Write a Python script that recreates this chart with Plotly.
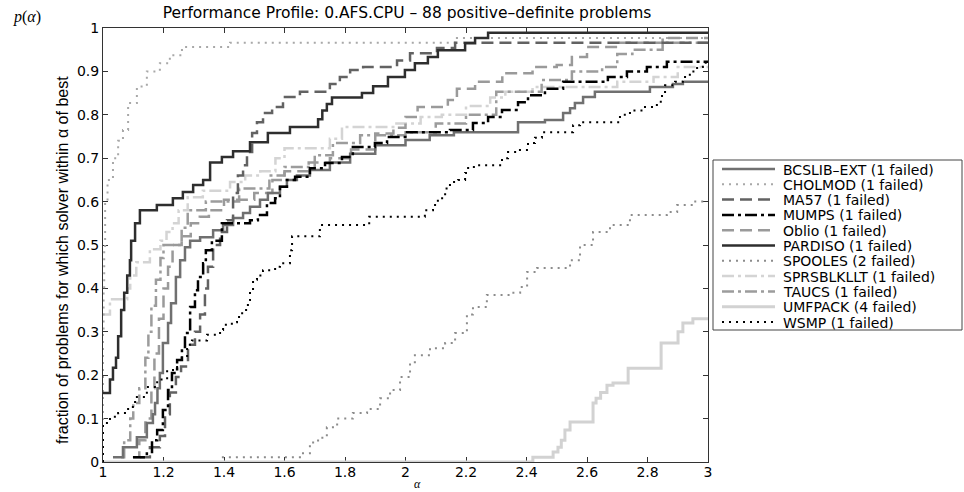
import plotly.graph_objects as go

# ---------------- data ----------------
bcslib_alpha = [1.033, 1.066, 1.112, 1.145, 1.165, 1.172, 1.18, 1.188, 1.198, 1.215, 1.225, 1.241, 1.255, 1.271, 1.288,
                1.321, 1.364, 1.397, 1.43, 1.463, 1.486, 1.519, 1.545, 1.585, 1.608, 1.641, 1.684, 1.75, 1.817, 1.9,
                2.0, 2.08, 2.16, 2.372, 2.461, 2.521, 2.544, 2.56, 2.587, 2.626, 2.808, 2.884, 2.917, 3.0]
bcslib_p = [0.011, 0.034, 0.057, 0.09, 0.11, 0.136, 0.17, 0.205, 0.274, 0.32, 0.366, 0.426, 0.465, 0.495, 0.51,
            0.518, 0.534, 0.546, 0.562, 0.574, 0.588, 0.604, 0.62, 0.634, 0.65, 0.66, 0.673, 0.69, 0.71, 0.73,
            0.742, 0.753, 0.76, 0.783, 0.788, 0.804, 0.815, 0.827, 0.841, 0.853, 0.864, 0.871, 0.876, 0.876]

cholmod_alpha = [1.0, 1.0, 1.002, 1.004, 1.007, 1.015, 1.033, 1.05, 1.066, 1.083, 1.112, 1.145, 1.188, 1.221, 1.261,
                 1.42, 2.17, 3.0]
cholmod_p = [0.0, 0.30, 0.40, 0.49, 0.60, 0.65, 0.70, 0.74, 0.765, 0.827, 0.865, 0.90, 0.919, 0.937, 0.956,
             0.966, 0.977, 0.977]

ma57_alpha = [1.122, 1.155, 1.188, 1.205, 1.221, 1.241, 1.258, 1.281, 1.304, 1.321, 1.337, 1.347, 1.364, 1.387, 1.41,
              1.43, 1.446, 1.463, 1.476, 1.493, 1.509, 1.529, 1.559, 1.595, 1.651, 1.75, 1.783, 1.817, 1.86, 1.972,
              2.015, 2.104, 2.164, 3.0]
ma57_p = [0.011, 0.034, 0.06, 0.11, 0.16, 0.196, 0.22, 0.27, 0.30, 0.34, 0.40, 0.45, 0.50, 0.53, 0.557,
          0.62, 0.66, 0.684, 0.714, 0.758, 0.783, 0.804, 0.818, 0.841, 0.853, 0.871, 0.887, 0.903, 0.91, 0.925,
          0.942, 0.954, 0.966, 0.966]

mumps_alpha = [1.099, 1.145, 1.162, 1.179, 1.198, 1.215, 1.228, 1.245, 1.261, 1.271, 1.288, 1.304, 1.314, 1.331, 1.34,
               1.36, 1.393, 1.486, 1.512, 1.542, 1.569, 1.585, 1.608, 1.635, 1.684, 1.734, 1.79, 1.826, 1.899, 1.939,
               2.005, 2.147, 2.223, 2.273, 2.319, 2.372, 2.405, 2.461, 2.521, 2.669, 2.732, 2.798, 2.864, 3.0]
mumps_p = [0.011, 0.023, 0.05, 0.074, 0.12, 0.166, 0.205, 0.235, 0.265, 0.297, 0.357, 0.396, 0.426, 0.458, 0.488,
           0.51, 0.55, 0.557, 0.569, 0.597, 0.608, 0.634, 0.65, 0.657, 0.677, 0.689, 0.703, 0.726, 0.735, 0.749,
           0.76, 0.765, 0.781, 0.795, 0.811, 0.829, 0.845, 0.86, 0.876, 0.887, 0.9, 0.91, 0.922, 0.922]

oblio_alpha = [1.10, 1.12, 1.14, 1.16, 1.17, 1.185, 1.2, 1.215, 1.23, 1.26, 1.29, 1.32, 1.35, 1.4, 1.5,
               1.56, 1.6, 1.68, 1.75, 1.82, 1.9, 1.96, 2.0, 2.04, 2.14, 2.17, 2.23, 2.32, 2.42, 2.5,
               2.55, 2.6, 2.7, 2.85, 3.0]
oblio_p = [0.011, 0.05, 0.10, 0.17, 0.25, 0.33, 0.40, 0.45, 0.50, 0.52, 0.55, 0.565, 0.58, 0.604, 0.62,
           0.65, 0.67, 0.69, 0.70, 0.72, 0.757, 0.77, 0.795, 0.818, 0.834, 0.86, 0.876, 0.896, 0.91, 0.915,
           0.933, 0.956, 0.966, 0.977, 0.977]

pardiso_alpha = [1.0, 1.023, 1.033, 1.043, 1.05, 1.06, 1.07, 1.08, 1.089, 1.093, 1.106, 1.122, 1.178, 1.231, 1.264,
                 1.298, 1.331, 1.354, 1.393, 1.43, 1.486, 1.545, 1.618, 1.711, 1.725, 1.74, 1.757, 1.856, 1.893, 1.942,
                 1.998, 2.031, 2.074, 2.107, 2.197, 2.23, 2.273, 3.0]
pardiso_p = [0.159, 0.19, 0.217, 0.24, 0.29, 0.35, 0.39, 0.43, 0.465, 0.51, 0.55, 0.58, 0.592, 0.608, 0.622,
             0.638, 0.65, 0.69, 0.703, 0.716, 0.737, 0.758, 0.772, 0.79, 0.81, 0.825, 0.84, 0.85, 0.866, 0.887,
             0.903, 0.919, 0.933, 0.949, 0.965, 0.977, 0.989, 0.989]

spooles_alpha = [1.393, 1.651, 1.684, 1.711, 1.74, 1.774, 1.826, 1.873, 1.916, 1.949, 1.982, 2.015, 2.031, 2.081, 2.131,
                 2.164, 2.203, 2.223, 2.269, 2.345, 2.379, 2.402, 2.435, 2.544, 2.577, 2.62, 2.676, 2.742, 2.864, 2.898,
                 2.95, 3.0]
spooles_p = [0.011, 0.02, 0.045, 0.056, 0.08, 0.10, 0.113, 0.122, 0.147, 0.166, 0.196, 0.23, 0.246, 0.262, 0.274,
             0.297, 0.34, 0.357, 0.385, 0.39, 0.403, 0.438, 0.447, 0.465, 0.5, 0.53, 0.546, 0.569, 0.576, 0.592,
             0.6, 0.6]

sprsblkllt_alpha = [1.0, 1.023, 1.08, 1.09, 1.11, 1.155, 1.19, 1.21, 1.23, 1.25, 1.28, 1.33, 1.42, 1.47, 1.52,
                    1.57, 1.60, 1.75, 1.79, 1.97, 2.05, 2.12, 2.2, 2.28, 2.33, 2.42, 2.7, 2.82, 2.9, 3.0]
sprsblkllt_p = [0.34, 0.375, 0.40, 0.43, 0.46, 0.49, 0.51, 0.53, 0.55, 0.58, 0.61, 0.625, 0.645, 0.66, 0.67,
                0.70, 0.723, 0.745, 0.772, 0.78, 0.795, 0.80, 0.82, 0.84, 0.853, 0.864, 0.876, 0.887, 0.91, 0.91]

taucs_alpha = [1.06, 1.07, 1.09, 1.10, 1.12, 1.14, 1.15, 1.16, 1.175, 1.19, 1.2, 1.26, 1.28, 1.34, 1.45,
               1.55, 1.6, 1.7, 1.76, 1.85, 2.0, 2.1, 2.2, 2.3, 2.45, 2.55, 2.65, 2.7, 2.75, 2.85, 3.0]
taucs_p = [0.011, 0.05, 0.10, 0.136, 0.17, 0.24, 0.30, 0.36, 0.42, 0.47, 0.50, 0.54, 0.58, 0.60, 0.63,
           0.66, 0.68, 0.707, 0.735, 0.753, 0.76, 0.78, 0.80, 0.853, 0.88, 0.90, 0.91, 0.94, 0.95, 0.966, 0.966]

umfpack_alpha = [1.0, 2.421, 2.488, 2.504, 2.515, 2.527, 2.544, 2.62, 2.63, 2.645, 2.666, 2.686, 2.736, 2.845, 2.901,
                 2.917, 2.95, 3.0]
umfpack_p = [0.0, 0.011, 0.023, 0.034, 0.05, 0.074, 0.092, 0.136, 0.147, 0.16, 0.177, 0.182, 0.216, 0.274, 0.30,
             0.32, 0.33, 0.33]

wsmp_alpha = [1.0, 1.0, 1.023, 1.05, 1.083, 1.106, 1.145, 1.179, 1.212, 1.245, 1.278, 1.294, 1.344, 1.387, 1.397,
              1.426, 1.443, 1.46, 1.479, 1.486, 1.496, 1.509, 1.529, 1.569, 1.585, 1.618, 1.625, 1.717, 1.88, 2.064,
              2.091, 2.107, 2.131, 2.147, 2.174, 2.197, 2.207, 2.23, 2.319, 2.339, 2.372, 2.405, 2.428, 2.451, 2.554,
              2.577, 2.709, 2.742, 2.785, 2.831, 2.848, 2.858, 2.891, 2.917, 2.94, 2.964, 2.983, 3.0]
wsmp_p = [0.0, 0.09, 0.104, 0.113, 0.127, 0.15, 0.173, 0.19, 0.212, 0.24, 0.27, 0.28, 0.293, 0.304, 0.316,
          0.322, 0.334, 0.35, 0.373, 0.392, 0.42, 0.43, 0.442, 0.45, 0.458, 0.488, 0.52, 0.546, 0.565, 0.58,
          0.592, 0.608, 0.63, 0.645, 0.65, 0.666, 0.68, 0.684, 0.70, 0.714, 0.719, 0.735, 0.747, 0.76, 0.776,
          0.783, 0.80, 0.81, 0.818, 0.83, 0.85, 0.868, 0.876, 0.887, 0.90, 0.91, 0.92, 0.92]

legend_labels = ["BCSLIB–EXT (1 failed)", "CHOLMOD (1 failed)", "MA57 (1 failed)", "MUMPS (1 failed)",
                 "Oblio (1 failed)", "PARDISO (1 failed)", "SPOOLES (2 failed)", "SPRSBLKLLT (1 failed)",
                 "TAUCS (1 failed)", "UMFPACK (4 failed)", "WSMP (1 failed)"]

x_ticks = [1, 1.2, 1.4, 1.6, 1.8, 2, 2.2, 2.4, 2.6, 2.8, 3]
x_tick_text = ["1", "1.2", "1.4", "1.6", "1.8", "2", "2.2", "2.4", "2.6", "2.8", "3"]
y_ticks = [0, 0.1, 0.2, 0.3, 0.4, 0.5, 0.6, 0.7, 0.8, 0.9, 1]
y_tick_text = ["0", "0.1", "0.2", "0.3", "0.4", "0.5", "0.6", "0.7", "0.8", "0.9", "1"]

series = [
    (bcslib_alpha, bcslib_p), (cholmod_alpha, cholmod_p), (ma57_alpha, ma57_p), (mumps_alpha, mumps_p),
    (oblio_alpha, oblio_p), (pardiso_alpha, pardiso_p), (spooles_alpha, spooles_p),
    (sprsblkllt_alpha, sprsblkllt_p), (taucs_alpha, taucs_p), (umfpack_alpha, umfpack_p), (wsmp_alpha, wsmp_p),
]

# ---------------- styles ----------------
DOT = "2px,5px"
DASH = "12px,6px"
DASHDOT = "12px,4px,3px,4px"
styles = [
    dict(color="#707070", dash="solid", width=2.5),   # BCSLIB-EXT
    dict(color="#a8a8a8", dash=DOT, width=2),         # CHOLMOD
    dict(color="#626262", dash=DASH, width=2.5),      # MA57
    dict(color="#000000", dash=DASHDOT, width=2.5),   # MUMPS
    dict(color="#9a9a9a", dash=DASH, width=2.5),      # Oblio
    dict(color="#2e2e2e", dash="solid", width=2.5),   # PARDISO
    dict(color="#8c8c8c", dash=DOT, width=2),         # SPOOLES
    dict(color="#d4d4d4", dash=DASHDOT, width=2.5),   # SPRSBLKLLT
    dict(color="#9c9c9c", dash=DASHDOT, width=2.5),   # TAUCS
    dict(color="#d2d2d2", dash="solid", width=3),     # UMFPACK
    dict(color="#000000", dash=DOT, width=2),         # WSMP
]

W, H = 964, 492
L, R, T, B = 103, 708, 28, 462  # plot area in pixels

def px2x(px):
    return (px - L) / (R - L)

def px2y(py):
    return (B - py) / (B - T)

fig = go.Figure()
# draw the lighter curves first so the darker ones sit on top
order = [9, 7, 1, 6, 8, 4, 0, 2, 10, 3, 5]
for i in order:
    a, p = series[i]
    st = styles[i]
    fig.add_trace(go.Scatter(
        x=a, y=p, mode="lines", line_shape="hv", name=legend_labels[i], showlegend=False,
        line=dict(color=st["color"], dash=st["dash"], width=st["width"]),
        hoverinfo="skip",
    ))

FONT = "DejaVu Sans, Verdana, sans-serif"

shapes = []
annotations = []
# legend box
shapes.append(dict(type="rect", xref="paper", yref="paper",
                   x0=px2x(713), x1=px2x(962), y0=px2y(160), y1=px2y(330),
                   line=dict(color="#444444", width=1), fillcolor="white", layer="above"))
for k, lab in enumerate(legend_labels):
    yc = 169 + k * 15.3
    st = styles[k]
    shapes.append(dict(type="line", xref="paper", yref="paper",
                       x0=px2x(722), x1=px2x(775), y0=px2y(yc), y1=px2y(yc),
                       line=dict(color=st["color"], dash=st["dash"], width=st["width"]), layer="above"))
    annotations.append(dict(text=lab, xref="paper", yref="paper", x=px2x(781), y=px2y(yc),
                            xanchor="left", yanchor="middle", showarrow=False, height=15,
                            font=dict(family=FONT, size=14, color="black")))

# y label, p(alpha), alpha
annotations.append(dict(text="fraction of problems for which solver within α of best", textangle=-90,
                        xref="paper", yref="paper", x=px2x(62), y=px2y(260),
                        xanchor="center", yanchor="middle", showarrow=False,
                        font=dict(family="Liberation Sans Narrow, Liberation Sans, Arial", size=16, color="black")))
annotations.append(dict(text="<i>p</i>(<i>α</i>)", xref="paper", yref="paper", x=px2x(27), y=px2y(17),
                        xanchor="center", yanchor="middle", showarrow=False,
                        font=dict(family="Liberation Serif, DejaVu Serif, serif", size=16, color="black")))
annotations.append(dict(text="<i>α</i>", xref="paper", yref="paper", x=px2x(417), y=px2y(484),
                        xanchor="center", yanchor="middle", showarrow=False,
                        font=dict(family="Liberation Serif, DejaVu Serif, serif", size=12, color="black")))

axis_common = dict(showgrid=False, zeroline=False, showline=True, mirror="ticks", linecolor="#333333",
                   linewidth=1, ticks="inside", ticklen=5, tickcolor="#333333",
                   tickfont=dict(family=FONT, size=14, color="black"), layer="below traces")

fig.update_layout(
    width=W, height=H,
    margin=dict(l=L, r=W - R, t=T, b=H - B, pad=0),
    paper_bgcolor="white", plot_bgcolor="white",
    title=dict(text="Performance Profile: 0.AFS.CPU – 88 positive–definite problems",
               x=407 / W, xanchor="center", y=1 - 13 / H, yanchor="middle",
               font=dict(family=FONT, size=15.5, color="black")),
    xaxis=dict(range=[1, 3], tickvals=x_ticks, ticktext=x_tick_text, ticklabelstandoff=-3, **axis_common),
    yaxis=dict(range=[0, 1], tickvals=y_ticks, ticktext=y_tick_text, **axis_common),
    shapes=shapes, annotations=annotations, showlegend=False,
)

fig.write_html("out.html")
